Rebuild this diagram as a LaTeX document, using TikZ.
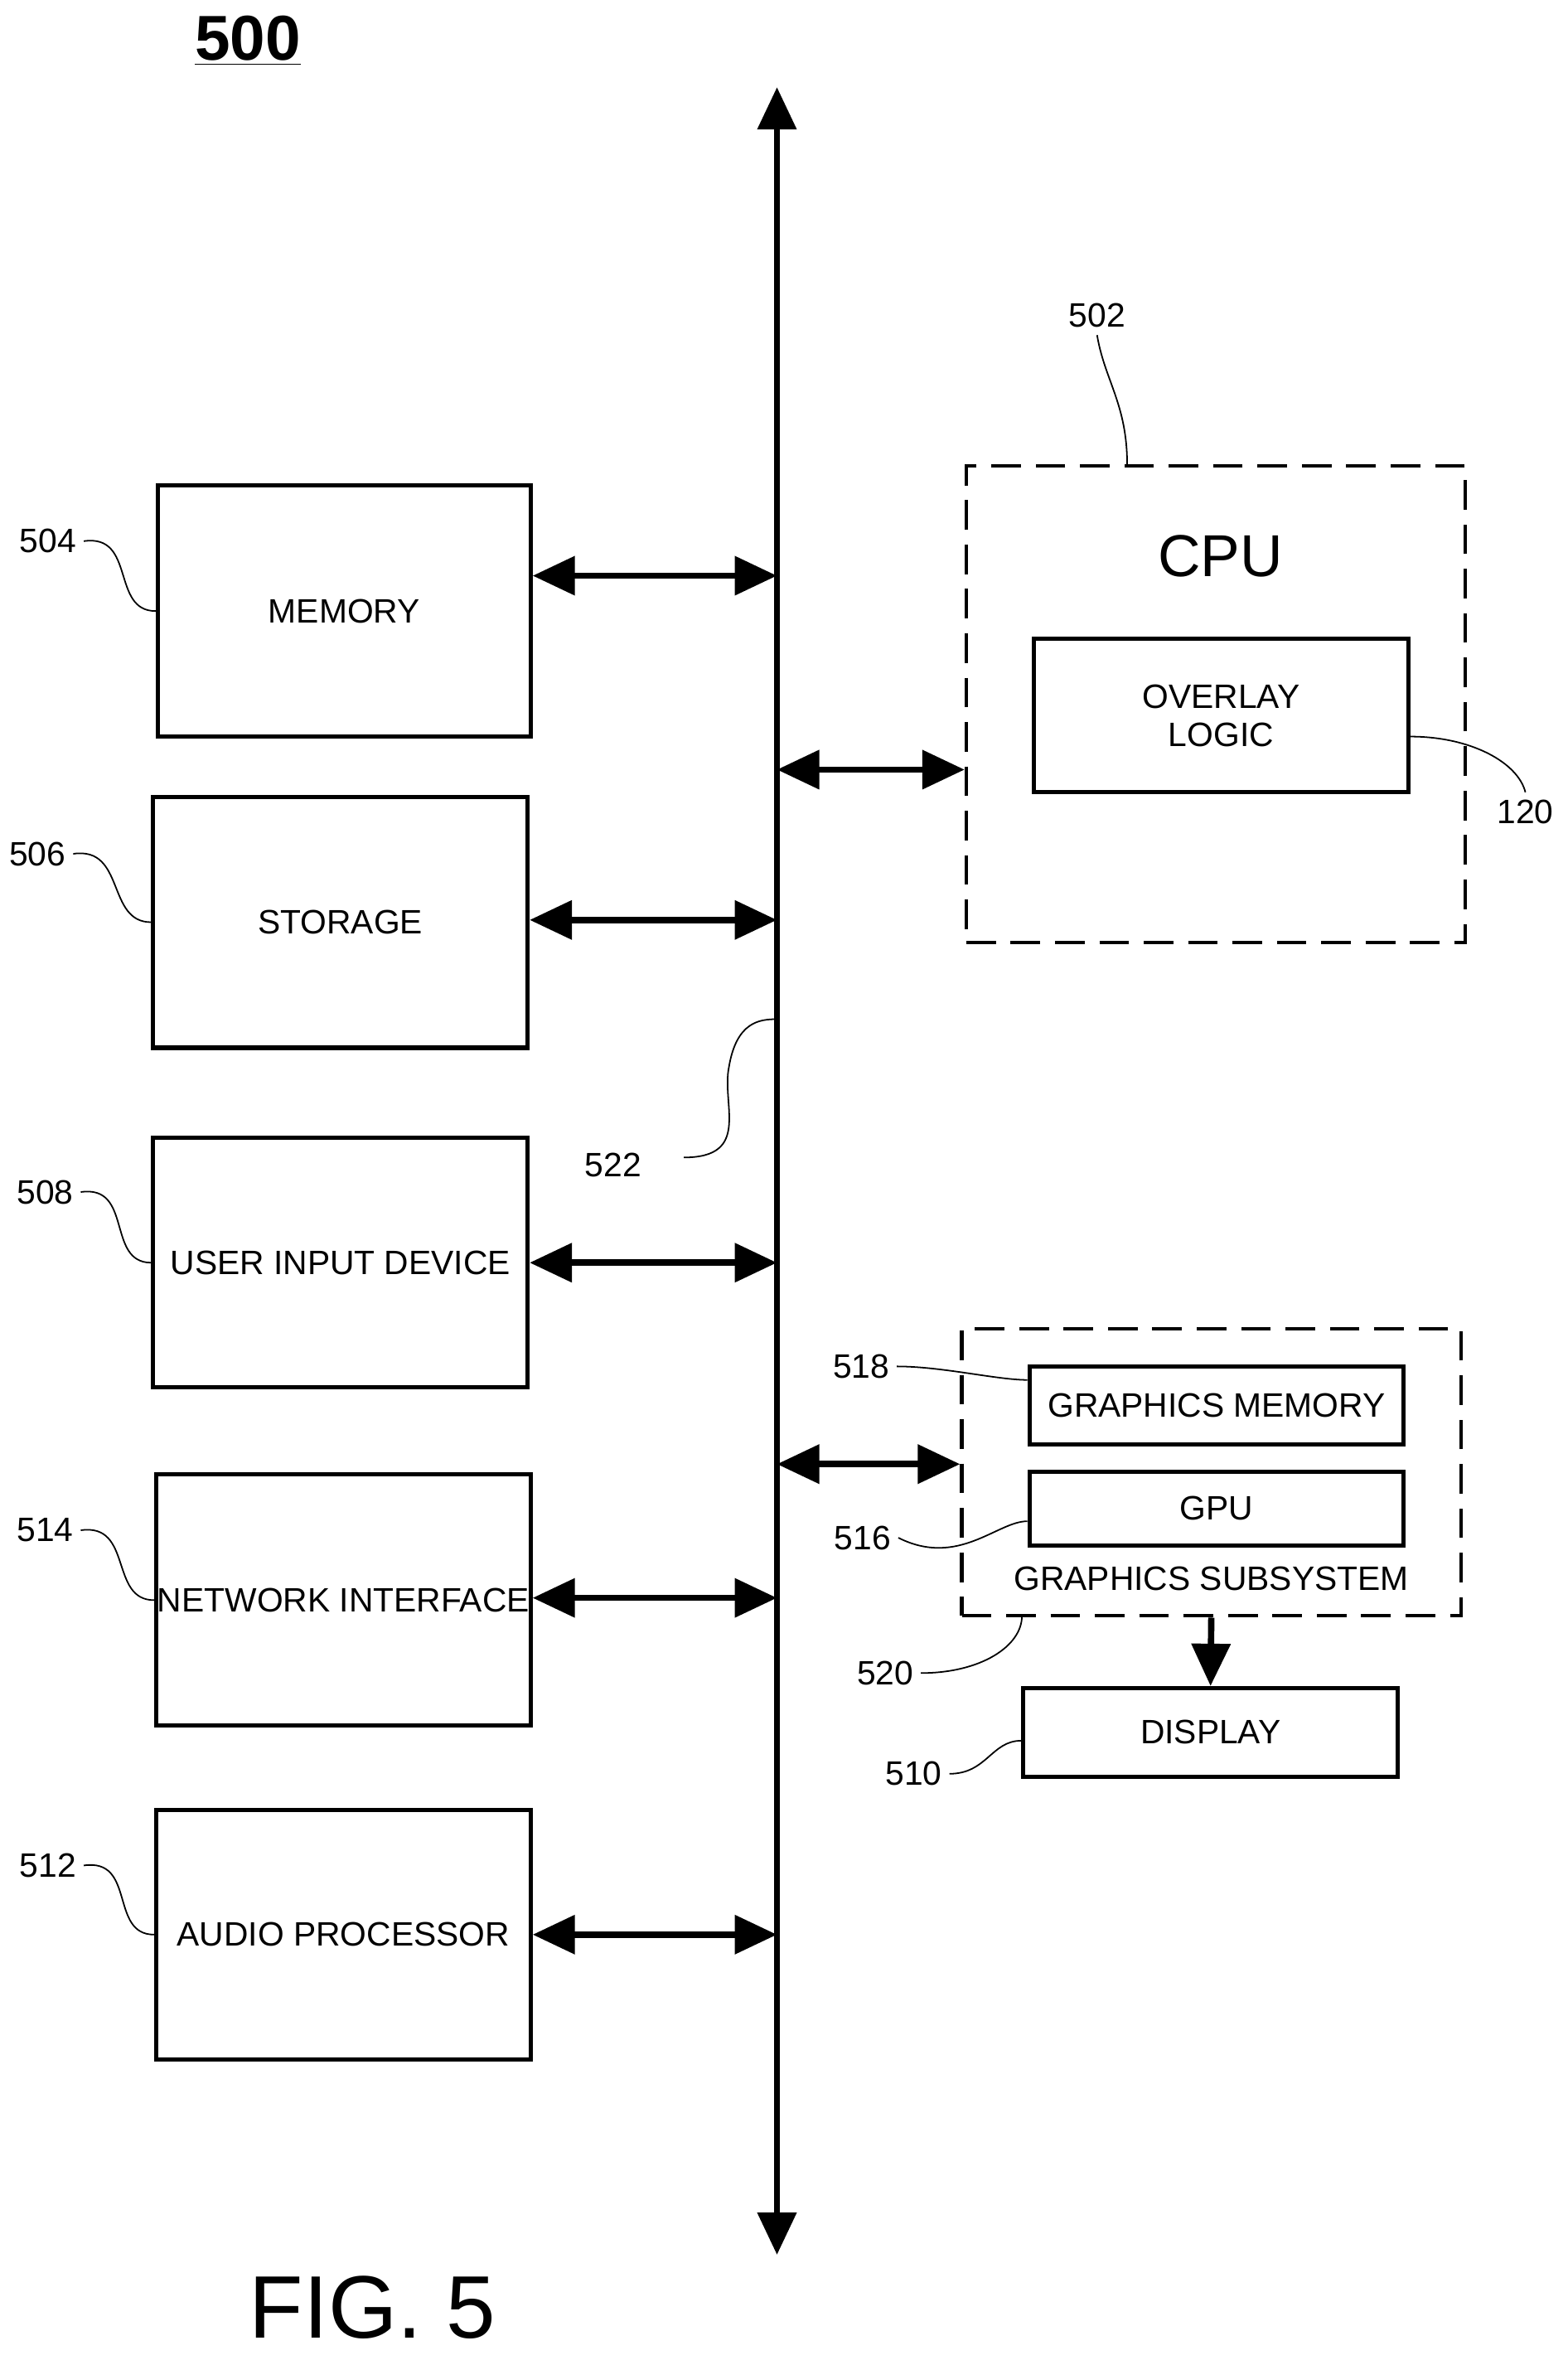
\documentclass[tikz,border=0pt]{standalone}
\usepackage{fontspec}
\setmainfont{Liberation Sans}
\usetikzlibrary{arrows.meta,positioning}
\tikzset{
  box/.style={draw, line width=2pt, inner sep=0pt, font=\fontsize{16}{18}\selectfont, align=center},
  dbox/.style={draw, line width=1.6pt, dash pattern=on 14pt off 7pt, inner sep=0pt},
  num/.style={font=\fontsize{16}{18}\selectfont},
  lead/.style={line width=0.7pt},
  biarrow/.style={line width=3pt, {Triangle[length=20pt,width=18pt]}-{Triangle[length=20pt,width=18pt]}},
}
\begin{document}
\begin{tikzpicture}[x=0.025cm,y=-0.025cm]
\useasboundingbox (0,0) rectangle (1043,1570);
% bus
\coordinate (bustop) at (517,58);
\coordinate (busbot) at (517,1500);
\draw[biarrow] (bustop) -- (busbot);
% left side boxes
\node[box, minimum width=6.2cm, minimum height=4.175cm] (mem) at (229,406.5) {MEMORY};
\node[box, minimum width=6.225cm, minimum height=4.175cm] (stor) at (226.5,613.5) {STORAGE};
\node[box, minimum width=6.225cm, minimum height=4.15cm] (uid) at (226.5,840) {USER INPUT DEVICE};
\node[box, minimum width=6.225cm, minimum height=4.175cm] (net) at (228.5,1064.5) {NETWORK INTERFACE};
\node[box, minimum width=6.225cm, minimum height=4.15cm] (aud) at (228.5,1287) {AUDIO PROCESSOR};
\draw[biarrow] (mem.east |- 0,383) -- (517,383);
\draw[biarrow] (stor.east |- 0,612) -- (517,612);
\draw[biarrow] (uid.east |- 0,840) -- (517,840);
\draw[biarrow] (net.east |- 0,1063) -- (517,1063);
\draw[biarrow] (aud.east |- 0,1287) -- (517,1287);
% reference numbers
\node[num] (n504) at (32,360) {504};
\node[num] (n506) at (25,568) {506};
\node[num] (n508) at (30,793) {508};
\node[num] (n514) at (30,1018) {514};
\node[num] (n512) at (32,1241) {512};
\draw[lead] (n504.east) .. controls +(35,-5) and +(-30,0) .. (mem.west);
\draw[lead] (n506.east) .. controls +(35,-5) and +(-30,0) .. (stor.west);
\draw[lead] (n508.east) .. controls +(35,-5) and +(-30,0) .. (uid.west);
\draw[lead] (n514.east) .. controls +(35,-5) and +(-30,0) .. (net.west);
\draw[lead] (n512.east) .. controls +(35,-5) and +(-30,0) .. (aud.west);
% CPU
\node[dbox, minimum width=8.3cm, minimum height=7.925cm] (cpu) at (809,468.5) {};
\node[font=\fontsize{28}{30}\selectfont] (cputxt) at (812,370) {CPU};
\node[box, minimum width=6.225cm, minimum height=2.55cm] (ovl) at (812.5,476) {OVERLAY\\LOGIC};
\draw[biarrow] (517,512) -- (cpu.west |- 0,512);
\node[num] (n502) at (730,210) {502};
\node[num] (n120) at (1015,540) {120};
\draw[lead] (n502.south) .. controls +(5,30) and +(0,-40) .. (cpu.north -| 750,0);
\draw[lead] (ovl.east |- 0,490) .. controls +(40,0) and +(-5,-20) .. (n120.north);
% bus label
\node[num] (n522) at (408,775) {522};
\draw[lead] (455,770) .. controls (500,770) and (480,735) .. (485,710)
  .. controls (490,680) and (505,678) .. (517,678);
% graphics subsystem
\node[dbox, minimum width=8.3cm, minimum height=4.775cm] (gss) at (806,979.5) {};
\node[box, minimum width=6.225cm, minimum height=1.3cm] (gmem) at (809.5,935) {GRAPHICS MEMORY};
\node[box, minimum width=6.225cm, minimum height=1.225cm] (gpu) at (809.5,1003.5) {GPU};
\node[font=\fontsize{16}{18}\selectfont] (gsstxt) at (806,1050) {GRAPHICS SUBSYSTEM};
\draw[biarrow] (517,974) -- (gss.west |- 0,974);
\node[box, minimum width=6.225cm, minimum height=1.475cm] (disp) at (805.5,1152.5) {DISPLAY};
\draw[line width=3pt, -{Triangle[length=20pt,width=18pt]}] (gss.south) -- (disp.north);
\node[num] (n518) at (573,909) {518};
\node[num] (n516) at (574,1023) {516};
\node[num] (n520) at (589,1113) {520};
\node[num] (n510) at (608,1180) {510};
\draw[lead] (n518.east) .. controls +(30,0) and +(-20,0) .. (gmem.west |- 0,918);
\draw[lead] (n516.east) .. controls +(40,20) and +(-20,0) .. (gpu.west |- 0,1012);
\draw[lead] (n520.east) .. controls +(40,0) and +(0,20) .. (680,1075);
\draw[lead] (n510.east) .. controls +(25,0) and +(-20,0) .. (disp.west |- 0,1158);
% titles
\node[font=\bfseries\fontsize{30}{32}\selectfont] (title) at (165,27) {\underline{500}};
\node[font=\fontsize{42}{44}\selectfont] (fig) at (248,1535) {FIG. 5};
\end{tikzpicture}
\end{document}
